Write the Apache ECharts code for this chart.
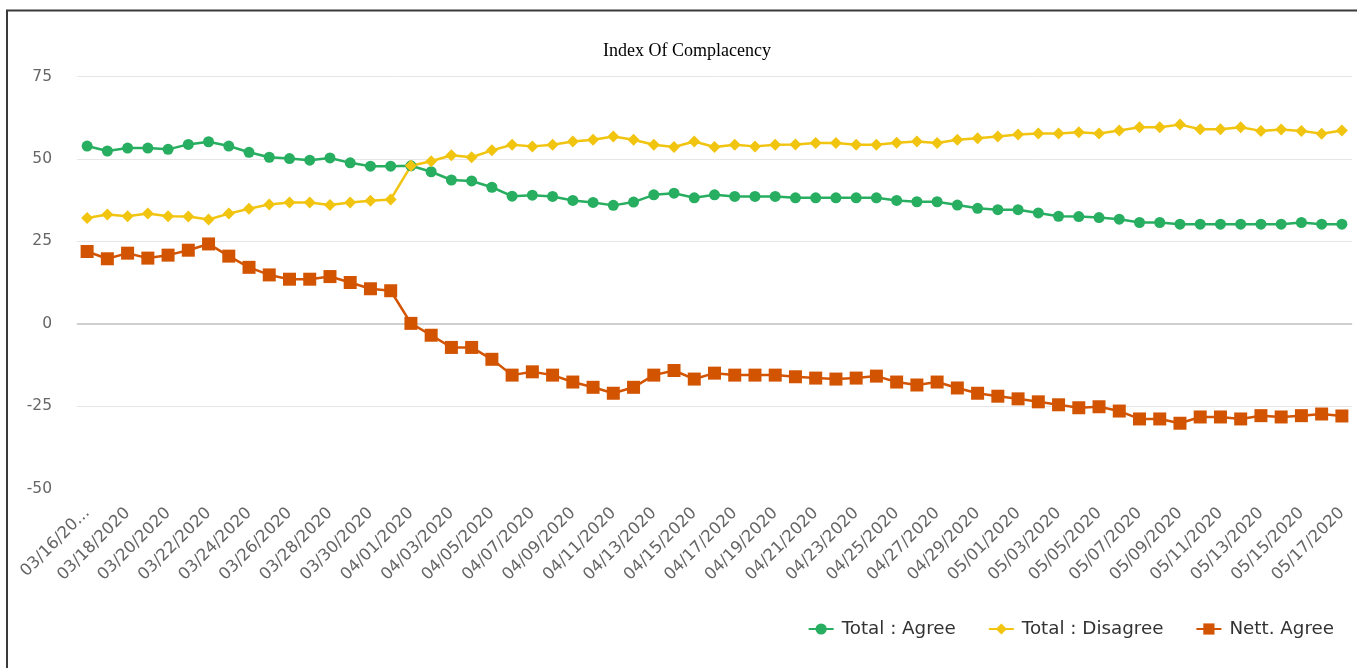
<!DOCTYPE html>
<html>
<head>
<meta charset="utf-8">
<script src="https://cdn.jsdelivr.net/npm/echarts@6/dist/echarts.min.js"></script>
<style>
html,body{margin:0;padding:0;background:#fff;}
#chart{width:1357px;height:668px;}
</style>
</head>
<body>
<div id="chart"></div>
<script>
const categories = [
  '03/16/2020','03/17/2020','03/18/2020','03/19/2020','03/20/2020','03/21/2020','03/22/2020','03/23/2020',
  '03/24/2020','03/25/2020','03/26/2020','03/27/2020','03/28/2020','03/29/2020','03/30/2020','03/31/2020',
  '04/01/2020','04/02/2020','04/03/2020','04/04/2020','04/05/2020','04/06/2020','04/07/2020','04/08/2020',
  '04/09/2020','04/10/2020','04/11/2020','04/12/2020','04/13/2020','04/14/2020','04/15/2020','04/16/2020',
  '04/17/2020','04/18/2020','04/19/2020','04/20/2020','04/21/2020','04/22/2020','04/23/2020','04/24/2020',
  '04/25/2020','04/26/2020','04/27/2020','04/28/2020','04/29/2020','04/30/2020','05/01/2020','05/02/2020',
  '05/03/2020','05/04/2020','05/05/2020','05/06/2020','05/07/2020','05/08/2020','05/09/2020','05/10/2020',
  '05/11/2020','05/12/2020','05/13/2020','05/14/2020','05/15/2020','05/16/2020','05/17/2020'
];
const totalAgree = [
  53.9,52.4,53.3,53.3,52.9,54.4,55.2,53.9,52.0,50.5,50.1,49.6,50.3,48.8,47.8,47.8,
  47.9,46.1,43.6,43.3,41.4,38.7,39.0,38.6,37.4,36.8,35.9,36.9,39.1,39.6,38.2,39.1,
  38.6,38.6,38.6,38.2,38.2,38.2,38.2,38.2,37.4,37.0,37.0,36.0,35.0,34.6,34.6,33.6,
  32.6,32.5,32.2,31.7,30.7,30.7,30.2,30.2,30.2,30.2,30.2,30.2,30.7,30.2,30.2
];
const totalDisagree = [
  32.1,33.1,32.6,33.4,32.6,32.5,31.6,33.4,34.9,36.2,36.8,36.8,36.0,36.8,37.3,37.7,
  47.9,49.3,51.1,50.5,52.6,54.3,53.8,54.3,55.3,55.8,56.8,55.8,54.3,53.6,55.3,53.6,
  54.3,53.8,54.3,54.4,54.8,54.8,54.3,54.3,54.9,55.3,54.8,55.8,56.3,56.8,57.4,57.7,
  57.7,58.1,57.7,58.6,59.6,59.6,60.4,59.0,59.0,59.6,58.5,58.9,58.5,57.6,58.6
];
const nettAgree = [
  21.9,19.7,21.4,19.9,20.8,22.3,24.2,20.5,17.1,14.8,13.5,13.5,14.3,12.5,10.6,10.0,
  0.1,-3.5,-7.2,-7.2,-10.8,-15.6,-14.6,-15.6,-17.7,-19.3,-21.1,-19.3,-15.6,-14.2,-16.8,-15.0,
  -15.6,-15.6,-15.6,-16.1,-16.5,-16.8,-16.5,-15.9,-17.7,-18.6,-17.7,-19.5,-21.1,-22.0,-22.8,-23.7,
  -24.6,-25.5,-25.2,-26.5,-28.9,-28.9,-30.2,-28.3,-28.3,-28.9,-27.9,-28.3,-27.9,-27.4,-28.0
];
const seriesNames = ['Total : Agree', 'Total : Disagree', 'Nett. Agree'];
const yTicks = { min: -50, max: 75, interval: 25 };

const chart = echarts.init(document.getElementById('chart'), null, { renderer: 'canvas' });
const font = '"DejaVu Sans", "Open Sans", sans-serif';

chart.setOption({
  animation: false,
  backgroundColor: '#ffffff',
  title: {
    text: 'Index Of Complacency',
    left: 598,
    top: 37,
    textStyle: { fontFamily: '"Liberation Serif", serif', fontSize: 18, fontWeight: 'normal', color: '#000' }
  },
  graphic: [{
    type: 'rect',
    silent: true,
    shape: { x: 7, y: 10.5, width: 1500, height: 800 },
    style: { fill: 'none', stroke: '#3a3a3a', lineWidth: 2 }
  }],
  legend: {
    data: seriesNames,
    right: 18,
    top: 615,
    itemWidth: 25,
    itemHeight: 14,
    itemGap: 32,
    textStyle: { fontFamily: font, fontSize: 18.3, color: '#333', padding: [0, 0, 0, 3] }
  },
  grid: { left: 77, right: 5, top: 76.5, bottom: 179.5, containLabel: false },
  xAxis: {
    type: 'category',
    data: categories,
    boundaryGap: true,
    axisLine: { lineStyle: { color: '#ccd6eb', width: 1 } },
    axisTick: { show: false },
    axisLabel: {
      interval: 1,
      rotate: 45,
      margin: 22,
      color: '#666',
      fontFamily: font,
      fontSize: 16.5,
      formatter: function (v, i) { return i === 0 ? v.slice(0, 5) + '/20...' : v; }
    }
  },
  yAxis: {
    type: 'value',
    min: yTicks.min,
    max: yTicks.max,
    interval: yTicks.interval,
    axisLine: { show: false },
    axisTick: { show: false },
    axisLabel: { margin: 25, color: '#666', fontFamily: font, fontSize: 15.5 },
    splitLine: { lineStyle: { color: ['rgba(0,0,0,0)', '#e6e6e6', '#d2d2d2', '#e6e6e6', '#e6e6e6', '#e6e6e6'], width: 1 } }
  },
  series: [
    {
      name: seriesNames[0], type: 'line', data: totalAgree,
      symbol: 'circle', symbolSize: 11,
      lineStyle: { width: 2.5, color: '#27ae60' },
      itemStyle: { color: '#27ae60' },
      markLine: {
        silent: true, symbol: 'none', z: 1, label: { show: false },
        lineStyle: { color: '#d0d0d0', width: 2, type: 'solid' },
        data: [{ yAxis: 0 }]
      }
    },
    {
      name: seriesNames[1], type: 'line', data: totalDisagree,
      symbol: 'diamond', symbolSize: 12,
      lineStyle: { width: 2.5, color: '#f1c40f' },
      itemStyle: { color: '#f1c40f' }
    },
    {
      name: seriesNames[2], type: 'line', data: nettAgree,
      symbol: 'rect', symbolSize: 13,
      lineStyle: { width: 2.5, color: '#d35400' },
      itemStyle: { color: '#d35400' }
    }
  ]
});
</script>
</body>
</html>
